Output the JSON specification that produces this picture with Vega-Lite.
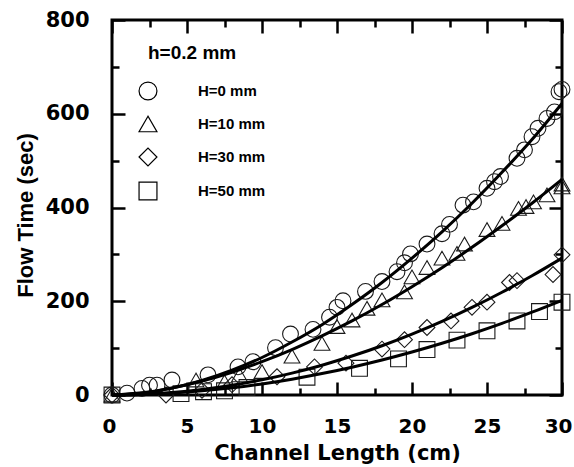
{
  "$schema": "https://vega.github.io/schema/vega-lite/v6.json",
  "width": 450,
  "height": 375,
  "autosize": {"type": "none"},
  "padding": {"left": 112, "top": 20, "right": 12, "bottom": 72},
  "background": "white",
  "config": {
    "view": {"stroke": "black", "strokeWidth": 3},
    "font": "Liberation Sans",
    "axis": {"grid": false, "domain": false, "tickColor": "black", "tickWidth": 2.5, "labelFont": "DejaVu Sans", "labelFontWeight": "bold", "labelColor": "black", "titleFont": "DejaVu Sans", "titleFontWeight": "bold", "titleColor": "black", "labelFlush": false, "labelOverlap": false}
  },
  "datasets": {
    "pts": [
      {"x": 0, "y": 0, "series": "H=0 mm"}, {"x": 1, "y": 4, "series": "H=0 mm"}, {"x": 2, "y": 14, "series": "H=0 mm"}, {"x": 2.5, "y": 21, "series": "H=0 mm"}, {"x": 3, "y": 21, "series": "H=0 mm"}, {"x": 4, "y": 32, "series": "H=0 mm"}, {"x": 6.4, "y": 43, "series": "H=0 mm"}, {"x": 8.4, "y": 60, "series": "H=0 mm"}, {"x": 9.4, "y": 71, "series": "H=0 mm"}, {"x": 10.9, "y": 101, "series": "H=0 mm"}, {"x": 11.9, "y": 130, "series": "H=0 mm"}, {"x": 13.4, "y": 140, "series": "H=0 mm"}, {"x": 14.5, "y": 166, "series": "H=0 mm"}, {"x": 15, "y": 187, "series": "H=0 mm"}, {"x": 15.4, "y": 201, "series": "H=0 mm"}, {"x": 16.9, "y": 221, "series": "H=0 mm"}, {"x": 18, "y": 242, "series": "H=0 mm"}, {"x": 19, "y": 263, "series": "H=0 mm"}, {"x": 19.5, "y": 282, "series": "H=0 mm"}, {"x": 19.9, "y": 301, "series": "H=0 mm"}, {"x": 21, "y": 322, "series": "H=0 mm"}, {"x": 22, "y": 344, "series": "H=0 mm"}, {"x": 22.5, "y": 364, "series": "H=0 mm"}, {"x": 23.4, "y": 405, "series": "H=0 mm"}, {"x": 24.1, "y": 412, "series": "H=0 mm"}, {"x": 25, "y": 441, "series": "H=0 mm"}, {"x": 25.5, "y": 455, "series": "H=0 mm"}, {"x": 25.9, "y": 466, "series": "H=0 mm"}, {"x": 27, "y": 505, "series": "H=0 mm"}, {"x": 27.5, "y": 523, "series": "H=0 mm"}, {"x": 28, "y": 551, "series": "H=0 mm"}, {"x": 28.4, "y": 569, "series": "H=0 mm"}, {"x": 29, "y": 590, "series": "H=0 mm"}, {"x": 29.5, "y": 604, "series": "H=0 mm"}, {"x": 29.8, "y": 647, "series": "H=0 mm"}, {"x": 30, "y": 652, "series": "H=0 mm"},
      {"x": 0, "y": 0, "series": "H=10 mm"}, {"x": 5.6, "y": 32, "series": "H=10 mm"}, {"x": 7.5, "y": 28, "series": "H=10 mm"}, {"x": 8.5, "y": 43, "series": "H=10 mm"}, {"x": 10, "y": 50, "series": "H=10 mm"}, {"x": 12, "y": 83, "series": "H=10 mm"}, {"x": 14, "y": 110, "series": "H=10 mm"}, {"x": 15, "y": 146, "series": "H=10 mm"}, {"x": 16, "y": 160, "series": "H=10 mm"}, {"x": 17, "y": 185, "series": "H=10 mm"}, {"x": 18, "y": 203, "series": "H=10 mm"}, {"x": 19.5, "y": 220, "series": "H=10 mm"}, {"x": 20, "y": 252, "series": "H=10 mm"}, {"x": 21, "y": 272, "series": "H=10 mm"}, {"x": 22, "y": 292, "series": "H=10 mm"}, {"x": 23, "y": 302, "series": "H=10 mm"}, {"x": 23.5, "y": 322, "series": "H=10 mm"}, {"x": 25, "y": 353, "series": "H=10 mm"}, {"x": 26, "y": 366, "series": "H=10 mm"}, {"x": 27.1, "y": 398, "series": "H=10 mm"}, {"x": 27.6, "y": 402, "series": "H=10 mm"}, {"x": 28.1, "y": 412, "series": "H=10 mm"}, {"x": 29, "y": 427, "series": "H=10 mm"}, {"x": 30, "y": 444, "series": "H=10 mm"}, {"x": 30, "y": 450, "series": "H=10 mm"},
      {"x": 0, "y": 0, "series": "H=30 mm"}, {"x": 3.6, "y": 0, "series": "H=30 mm"}, {"x": 6, "y": 10, "series": "H=30 mm"}, {"x": 8, "y": 22, "series": "H=30 mm"}, {"x": 11, "y": 39, "series": "H=30 mm"}, {"x": 13.5, "y": 60, "series": "H=30 mm"}, {"x": 15.6, "y": 68, "series": "H=30 mm"}, {"x": 18, "y": 98, "series": "H=30 mm"}, {"x": 19.5, "y": 118, "series": "H=30 mm"}, {"x": 21, "y": 144, "series": "H=30 mm"}, {"x": 22.6, "y": 158, "series": "H=30 mm"}, {"x": 24, "y": 187, "series": "H=30 mm"}, {"x": 25, "y": 198, "series": "H=30 mm"}, {"x": 26.5, "y": 240, "series": "H=30 mm"}, {"x": 27, "y": 244, "series": "H=30 mm"}, {"x": 29.4, "y": 257, "series": "H=30 mm"}, {"x": 30, "y": 299, "series": "H=30 mm"},
      {"x": 0, "y": 0, "series": "H=50 mm"}, {"x": 4.6, "y": 3, "series": "H=50 mm"}, {"x": 6.1, "y": 7, "series": "H=50 mm"}, {"x": 7.5, "y": 9, "series": "H=50 mm"}, {"x": 9, "y": 16, "series": "H=50 mm"}, {"x": 13, "y": 38, "series": "H=50 mm"}, {"x": 16.5, "y": 57, "series": "H=50 mm"}, {"x": 19.1, "y": 77, "series": "H=50 mm"}, {"x": 21, "y": 97, "series": "H=50 mm"}, {"x": 23, "y": 117, "series": "H=50 mm"}, {"x": 25, "y": 137, "series": "H=50 mm"}, {"x": 27, "y": 158, "series": "H=50 mm"}, {"x": 28.5, "y": 178, "series": "H=50 mm"}, {"x": 30, "y": 198, "series": "H=50 mm"}
    ],
    "fits": [
      {"x": 0, "y": 0, "series": "H=0 mm"}, {"x": 2, "y": 4, "series": "H=0 mm"}, {"x": 4, "y": 14.6, "series": "H=0 mm"}, {"x": 6, "y": 31, "series": "H=0 mm"}, {"x": 8, "y": 53, "series": "H=0 mm"}, {"x": 10, "y": 80, "series": "H=0 mm"}, {"x": 12, "y": 113, "series": "H=0 mm"}, {"x": 14, "y": 150, "series": "H=0 mm"}, {"x": 16, "y": 193, "series": "H=0 mm"}, {"x": 18, "y": 240, "series": "H=0 mm"}, {"x": 20, "y": 292, "series": "H=0 mm"}, {"x": 22, "y": 348, "series": "H=0 mm"}, {"x": 24, "y": 409, "series": "H=0 mm"}, {"x": 26, "y": 475, "series": "H=0 mm"}, {"x": 28, "y": 545, "series": "H=0 mm"}, {"x": 30, "y": 622, "series": "H=0 mm"},
      {"x": 0, "y": 0, "series": "H=10 mm"}, {"x": 2, "y": 4.6, "series": "H=10 mm"}, {"x": 4, "y": 15, "series": "H=10 mm"}, {"x": 6, "y": 29.8, "series": "H=10 mm"}, {"x": 8, "y": 48.6, "series": "H=10 mm"}, {"x": 10, "y": 71, "series": "H=10 mm"}, {"x": 12, "y": 96.9, "series": "H=10 mm"}, {"x": 14, "y": 126, "series": "H=10 mm"}, {"x": 16, "y": 158, "series": "H=10 mm"}, {"x": 18, "y": 193, "series": "H=10 mm"}, {"x": 20, "y": 231, "series": "H=10 mm"}, {"x": 22, "y": 271.5, "series": "H=10 mm"}, {"x": 24, "y": 315, "series": "H=10 mm"}, {"x": 26, "y": 361, "series": "H=10 mm"}, {"x": 28, "y": 409, "series": "H=10 mm"}, {"x": 30, "y": 460, "series": "H=10 mm"},
      {"x": 0, "y": 0, "series": "H=30 mm"}, {"x": 2, "y": 1.3, "series": "H=30 mm"}, {"x": 4, "y": 5.2, "series": "H=30 mm"}, {"x": 6, "y": 11.7, "series": "H=30 mm"}, {"x": 8, "y": 20.8, "series": "H=30 mm"}, {"x": 10, "y": 32.4, "series": "H=30 mm"}, {"x": 12, "y": 46.7, "series": "H=30 mm"}, {"x": 14, "y": 63.6, "series": "H=30 mm"}, {"x": 16, "y": 83.1, "series": "H=30 mm"}, {"x": 18, "y": 105.1, "series": "H=30 mm"}, {"x": 20, "y": 129.8, "series": "H=30 mm"}, {"x": 22, "y": 157, "series": "H=30 mm"}, {"x": 24, "y": 186.9, "series": "H=30 mm"}, {"x": 26, "y": 219.3, "series": "H=30 mm"}, {"x": 28, "y": 254.4, "series": "H=30 mm"}, {"x": 30, "y": 292, "series": "H=30 mm"},
      {"x": 0, "y": 0, "series": "H=50 mm"}, {"x": 2, "y": 1, "series": "H=50 mm"}, {"x": 4, "y": 4, "series": "H=50 mm"}, {"x": 6, "y": 8.8, "series": "H=50 mm"}, {"x": 8, "y": 15.3, "series": "H=50 mm"}, {"x": 10, "y": 23.7, "series": "H=50 mm"}, {"x": 12, "y": 33.8, "series": "H=50 mm"}, {"x": 14, "y": 45.7, "series": "H=50 mm"}, {"x": 16, "y": 59.3, "series": "H=50 mm"}, {"x": 18, "y": 74.6, "series": "H=50 mm"}, {"x": 20, "y": 91.6, "series": "H=50 mm"}, {"x": 22, "y": 110.3, "series": "H=50 mm"}, {"x": 24, "y": 130.7, "series": "H=50 mm"}, {"x": 26, "y": 152.8, "series": "H=50 mm"}, {"x": 28, "y": 176.6, "series": "H=50 mm"}, {"x": 30, "y": 202, "series": "H=50 mm"}
    ]
  },
  "resolve": {"axis": {"x": "independent", "y": "independent"}},
  "layer": [
    {
      "data": {"name": "pts"},
      "mark": {"type": "point", "filled": false, "stroke": "#1a1a1a", "strokeWidth": 1.1, "size": 250, "opacity": 1},
      "encoding": {
        "x": {"field": "x", "type": "quantitative", "scale": {"domain": [0, 30], "nice": false, "zero": false},
          "axis": {"orient": "bottom", "values": [0, 5, 10, 15, 20, 25, 30], "tickSize": -13, "labelPadding": 34, "labelFontSize": 20, "labelFlush": true, "labelFlushOffset": 10, "title": "Channel Length (cm)", "titleFontSize": 21, "titlePadding": 6}},
        "y": {"field": "y", "type": "quantitative", "scale": {"domain": [0, 800], "nice": false, "zero": false},
          "axis": {"orient": "left", "values": [0, 200, 400, 600, 800], "tickSize": -13, "labelPadding": 36, "labelFontSize": 21, "title": "Flow Time (sec)", "titleFont": "Liberation Sans", "titleFontSize": 22, "titleX": -75, "titleY": 195}},
        "shape": {"field": "series", "type": "nominal",
          "scale": {"domain": ["H=0 mm", "H=10 mm", "H=30 mm", "H=50 mm"], "range": ["circle", "triangle-up", "diamond", "square"]},
          "legend": {"orient": "none", "legendX": 36, "legendY": 24, "title": "h=0.2 mm", "titleFontSize": 19, "titleFont": "Liberation Sans", "titleFontWeight": "bold", "titleColor": "black", "titlePadding": 18, "labelFontSize": 15, "labelFont": "Liberation Sans", "labelFontWeight": "bold", "labelColor": "black", "symbolSize": 320, "symbolStrokeWidth": 1.2, "symbolStrokeColor": "black", "symbolFillColor": "transparent", "symbolOffset": -10, "labelOffset": 40, "rowPadding": 10, "padding": 0}}
      }
    },
    {
      "data": {"name": "fits"},
      "mark": {"type": "line", "stroke": "black", "strokeWidth": 3, "interpolate": "monotone"},
      "encoding": {
        "x": {"field": "x", "type": "quantitative",
          "axis": {"orient": "bottom", "values": [2.5, 7.5, 12.5, 17.5, 22.5, 27.5], "labels": false, "tickSize": -7, "title": null}},
        "y": {"field": "y", "type": "quantitative",
          "axis": {"orient": "left", "values": [100, 300, 500, 700], "labels": false, "tickSize": -7, "title": null}},
        "detail": {"field": "series", "type": "nominal"}
      }
    },
    {
      "data": {"name": "fits"},
      "mark": {"type": "point", "opacity": 0},
      "encoding": {
        "x": {"field": "x", "type": "quantitative",
          "axis": {"orient": "top", "values": [0, 5, 10, 15, 20, 25, 30], "labels": false, "tickSize": -13, "title": null}},
        "y": {"field": "y", "type": "quantitative",
          "axis": {"orient": "right", "values": [0, 200, 400, 600, 800], "labels": false, "tickSize": -13, "title": null}}
      }
    },
    {
      "data": {"name": "fits"},
      "mark": {"type": "point", "opacity": 0},
      "encoding": {
        "x": {"field": "x", "type": "quantitative",
          "axis": {"orient": "top", "values": [2.5, 7.5, 12.5, 17.5, 22.5, 27.5], "labels": false, "tickSize": -7, "title": null}},
        "y": {"field": "y", "type": "quantitative",
          "axis": {"orient": "right", "values": [100, 300, 500, 700], "labels": false, "tickSize": -7, "title": null}}
      }
    }
  ]
}
